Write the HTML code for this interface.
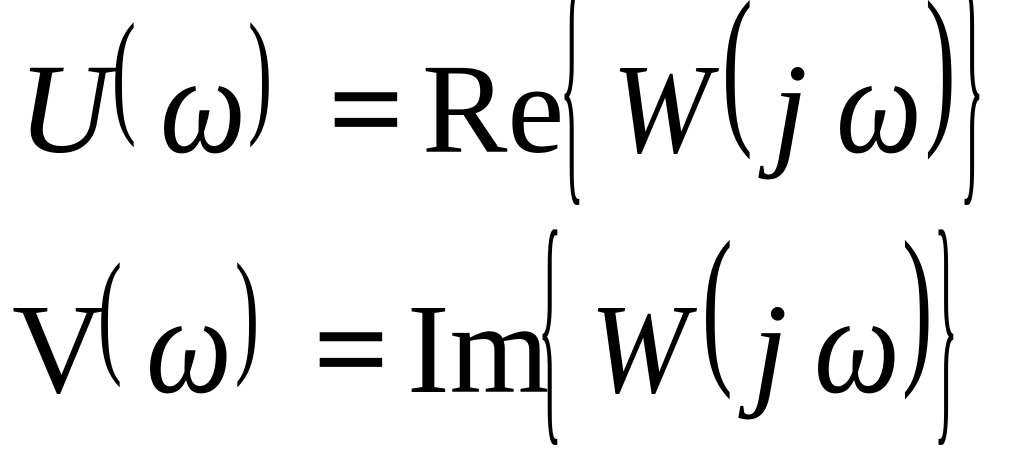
<!DOCTYPE html>
<html><head><meta charset="utf-8"><style>
html,body{margin:0;padding:0;background:#fff;width:1024px;height:460px;overflow:hidden}
svg{display:block}
text{font-family:"Liberation Serif","DejaVu Serif",serif;fill:#000}
.i{font-style:italic}
</style></head><body>
<svg width="1024" height="460" viewBox="0 0 1024 460">
<!-- line 1 -->
<text class="i" x="18" y="152" font-size="128">U</text>
<text transform="translate(112,118) scale(0.6,1.15)" font-size="120">(</text>
<text class="i" transform="translate(160,152) scale(0.95,1.1)" font-size="128">ω</text>
<text transform="translate(248,118) scale(0.6,1.15)" font-size="120">)</text>
<text transform="translate(328,152) scale(1.05,1)" font-size="128" font-weight="bold">=</text>
<text x="422" y="152" font-size="128">Re</text>
<text transform="translate(560,170) scale(0.2,1.05)" font-size="248">{</text>
<text class="i" transform="translate(612,152) scale(0.92,1)" font-size="128">W</text>
<text transform="translate(722,122) scale(0.6,1.15)" font-size="153">(</text>
<text class="i" x="772" y="152" font-size="128">j</text>
<text class="i" transform="translate(836,152) scale(0.95,1.1)" font-size="128">ω</text>
<text transform="translate(925,122) scale(0.6,1.15)" font-size="153">)</text>
<text transform="translate(960,170) scale(0.2,1.05)" font-size="248">}</text>
<!-- line 2 -->
<text x="12" y="392" font-size="128">V</text>
<text transform="translate(98,358) scale(0.6,1.15)" font-size="120">(</text>
<text class="i" transform="translate(146,392) scale(0.95,1.1)" font-size="128">ω</text>
<text transform="translate(235,358) scale(0.6,1.15)" font-size="120">)</text>
<text transform="translate(313,392) scale(1.05,1)" font-size="128" font-weight="bold">=</text>
<text x="407" y="392" font-size="128">Im</text>
<text transform="translate(538,410) scale(0.2,1.05)" font-size="248">{</text>
<text class="i" transform="translate(590,392) scale(0.92,1)" font-size="128">W</text>
<text transform="translate(702,362) scale(0.6,1.15)" font-size="153">(</text>
<text class="i" x="752" y="392" font-size="128">j</text>
<text class="i" transform="translate(814,392) scale(0.95,1.1)" font-size="128">ω</text>
<text transform="translate(902,362) scale(0.6,1.15)" font-size="153">)</text>
<text transform="translate(934,410) scale(0.2,1.05)" font-size="248">}</text>
</svg>
</body></html>
